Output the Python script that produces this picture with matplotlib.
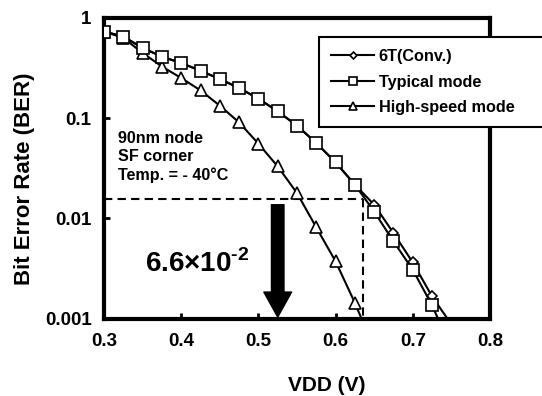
import matplotlib
matplotlib.use("Agg")
import matplotlib.pyplot as plt
from matplotlib.ticker import NullLocator

plt.rcParams['font.family'] = ['Liberation Sans', 'DejaVu Sans']
plt.rcParams['font.weight'] = 'bold'
plt.rcParams['mathtext.fontset'] = 'custom'
plt.rcParams['mathtext.rm'] = 'Liberation Sans:bold'
plt.rcParams['mathtext.bf'] = 'Liberation Sans:bold'

# VDD (V) sweep, step 0.025
vdd_6t = [0.3, 0.325, 0.35, 0.375, 0.4, 0.425, 0.45, 0.475, 0.5, 0.525,
          0.55, 0.575, 0.6, 0.625, 0.65, 0.675, 0.7, 0.725, 0.75]
ber_6t = [0.73, 0.65, 0.5, 0.41, 0.354, 0.297, 0.245, 0.2, 0.156, 0.117,
          0.084, 0.0565, 0.0362, 0.0217, 0.0137, 0.00715, 0.00364, 0.00167, 0.00088]

vdd_typ = [0.3, 0.325, 0.35, 0.375, 0.4, 0.425, 0.45, 0.475, 0.5, 0.525,
           0.55, 0.575, 0.6, 0.625, 0.65, 0.675, 0.7, 0.725, 0.75]
ber_typ = [0.73, 0.65, 0.5, 0.41, 0.354, 0.297, 0.245, 0.2, 0.156, 0.117,
           0.084, 0.0565, 0.0362, 0.0217, 0.0117, 0.0059, 0.00308, 0.00136, 0.0005]

vdd_hs = [0.3, 0.325, 0.35, 0.375, 0.4, 0.425, 0.45, 0.475, 0.5, 0.525,
          0.55, 0.575, 0.6, 0.625, 0.65]
ber_hs = [0.73, 0.63, 0.446, 0.327, 0.251, 0.189, 0.133, 0.0906, 0.0556, 0.033,
          0.0179, 0.00813, 0.00373, 0.00144, 0.0005]

x_ticks = [0.3, 0.4, 0.5, 0.6, 0.7, 0.8]
y_ticks = [0.001, 0.01, 0.1, 1]
y_ticklabels = ['0.001', '0.01', '0.1', '1']

ber_level = 0.0155     # dashed horizontal guide
vdd_level = 0.636      # dashed vertical guide
arrow_x = 0.525
arrow_top = 0.0137
arrow_tip = 0.00104

fig = plt.figure(figsize=(5.42, 3.96), dpi=100)
ax = fig.add_axes([0.192, 0.195, 0.712, 0.760])

mk = dict(color='black', lw=1.5, mfc='white', mec='black', mew=1.2)
ax.plot(vdd_6t, ber_6t, marker='D', ms=5, label='6T(Conv.)', zorder=3, **mk)
ax.plot(vdd_typ, ber_typ, marker='s', ms=8, label='Typical mode', zorder=4, **mk)
ax.plot(vdd_hs, ber_hs, marker='^', ms=9, label='High-speed mode', zorder=3, **mk)

ax.plot([0.3, vdd_level], [ber_level, ber_level], color='black', lw=1.5,
        dashes=(4, 2.5), zorder=2)
ax.plot([vdd_level, vdd_level], [ber_level, 0.001], color='black', lw=1.5,
        dashes=(4, 2.5), zorder=2)

ax.annotate('', xy=(arrow_x, arrow_tip), xytext=(arrow_x, arrow_top),
            arrowprops=dict(facecolor='black', edgecolor='black', width=9,
                            headwidth=20, headlength=18, shrink=0))

ax.text(0.421, 0.0035, '6.6×10$^{\\text{-2}}$', fontsize=20, fontweight='bold',
        ha='center', va='center')
ax.text(0.318, 0.074, '90nm node\nSF corner\nTemp. = - 40°C', fontsize=11.6,
        fontweight='bold', ha='left', va='top', linespacing=1.25)

ax.set_yscale('log')
ax.set_xlim(0.3, 0.8)
ax.set_ylim(0.001, 1)
ax.set_xticks(x_ticks)
ax.set_xticklabels([f'{v:.1f}' for v in x_ticks])
ax.set_yticks(y_ticks)
ax.set_yticklabels(y_ticklabels)
ax.yaxis.set_minor_locator(NullLocator())
ax.tick_params(direction='in', length=4, width=2, labelsize=13.5)
ax.tick_params(axis='x', pad=10)
ax.tick_params(axis='y', pad=9)
for s in ax.spines.values():
    s.set_linewidth(3)

ax.set_xlabel('VDD (V)', fontsize=15, fontweight='bold')
ax.xaxis.set_label_coords(0.578, -0.19)
ax.set_ylabel('Bit Error Rate (BER)', fontsize=16, fontweight='bold')
ax.yaxis.set_label_coords(-0.18, 0.465)

leg = ax.legend(loc='upper left', bbox_to_anchor=(0.589, 0.67, 0.43, 0.237),
                bbox_transform=fig.transFigure, mode='expand', borderaxespad=0,
                fontsize=11.7, frameon=True, fancybox=False, framealpha=1,
                edgecolor='black', borderpad=0.75, labelspacing=0.65,
                handlelength=2.6, handletextpad=0.3, markerscale=0.7)
leg.get_frame().set_linewidth(1.5)

fig.savefig('out.png', dpi=100)
